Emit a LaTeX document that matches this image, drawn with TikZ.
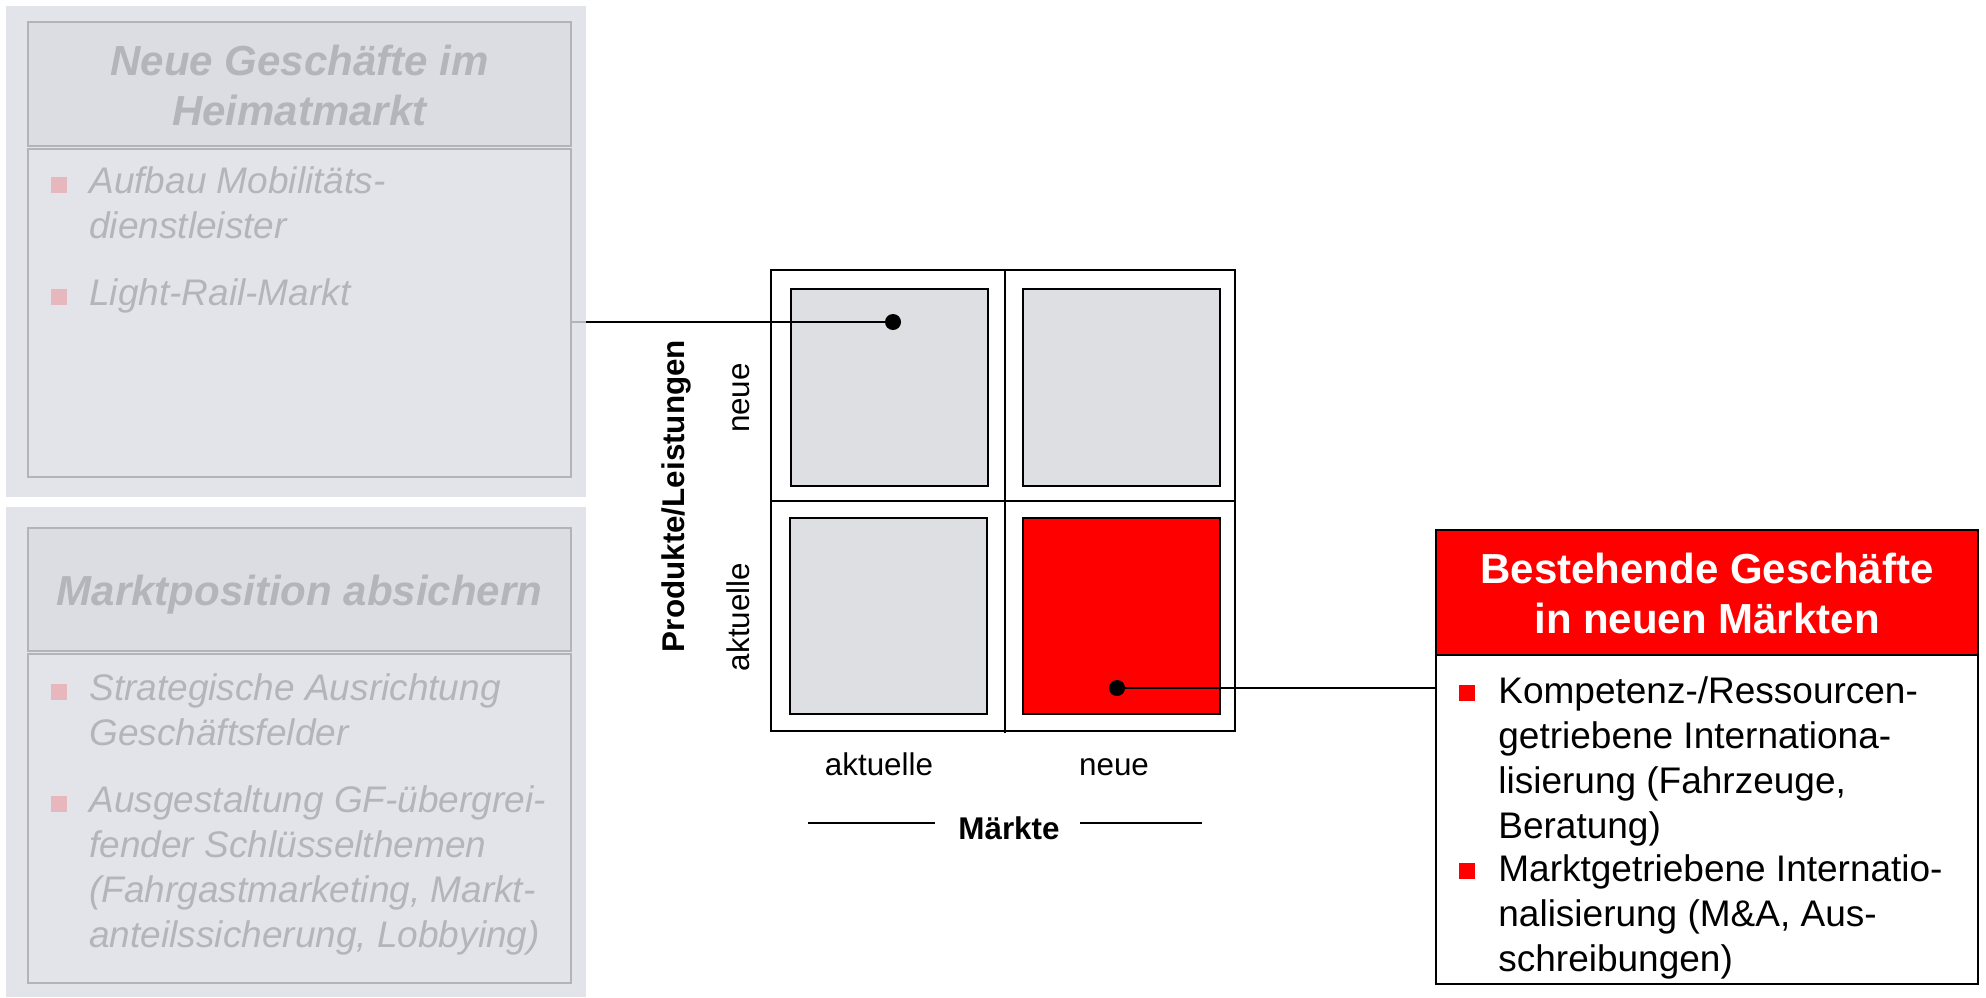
\documentclass[tikz,border=0pt]{standalone}
\usepackage{fontspec}
\setmainfont{Liberation Sans}
\definecolor{panelbg}{HTML}{E3E4E9}
\definecolor{panelhead}{HTML}{DCDDE2}
\definecolor{panelline}{HTML}{B3B4B9}
\definecolor{fadetext}{HTML}{B4B5BA}
\definecolor{fadebullet}{HTML}{E6B7BD}
\definecolor{cellgray}{HTML}{DEDFE3}
\definecolor{myred}{HTML}{FF0000}
\begin{document}
\begin{tikzpicture}[x=0.5pt,y=-0.5pt,
  boxnw/.style={inner sep=0pt, outer sep=0pt, anchor=north west},
  bgpanel/.style={boxnw, fill=panelbg},
  fadehead/.style={boxnw, fill=panelhead, draw=panelline, line width=1.3pt},
  fadebody/.style={boxnw, fill=panelbg, draw=panelline, line width=1.3pt},
  fadetitle/.style={inner sep=0pt, anchor=base, text=fadetext, font=\fontsize{21}{25}\selectfont\bfseries\itshape},
  fadeitem/.style={inner sep=0pt, anchor=base west, text=fadetext, font=\fontsize{18.5}{22.5}\selectfont\itshape},
  fadebul/.style={inner sep=0pt, anchor=south west, fill=fadebullet, minimum size=8pt},
  redbul/.style={inner sep=0pt, anchor=south west, fill=myred, minimum size=8pt},
  item/.style={inner sep=0pt, anchor=base west, font=\fontsize{18.5}{22.5}\selectfont},
  cell/.style={boxnw, fill=cellgray, draw=black, line width=1.3pt},
  axlbl/.style={inner sep=0pt, anchor=base, font=\fontsize{15.7}{19}\selectfont},
  dotst/.style={circle, fill=black, inner sep=0pt, minimum size=8pt},
  conn/.style={line width=1.3pt}
]
\useasboundingbox (0,0) rectangle (1986,997);

% ---------- left top panel ----------
\node[bgpanel, minimum width=290pt, minimum height=245.5pt] (bgA) at (6,6) {};
\node[fadehead, minimum width=271.5pt, minimum height=62pt] (headA) at (28,22) {};
\node[fadebody, minimum width=271.5pt, minimum height=164pt] (bodyA) at (28,149) {};
\node[fadetitle] (titleA) at (299.5,75) {\begin{tabular}[t]{@{}c@{}}Neue Geschäfte im\\Heimatmarkt\end{tabular}};
\node[fadebul] (bA1) at (51,193) {};
\node[fadeitem] (iA1) at (89,193) {\begin{tabular}[t]{@{}l@{}}Aufbau Mobilitäts-\\dienstleister\end{tabular}};
\node[fadebul] (bA2) at (51,305) {};
\node[fadeitem] (iA2) at (89,305) {Light-Rail-Markt};

% ---------- left bottom panel ----------
\node[bgpanel, minimum width=290pt, minimum height=245pt] (bgB) at (6,507) {};
\node[fadehead, minimum width=271.5pt, minimum height=61.5pt] (headB) at (28,528) {};
\node[fadebody, minimum width=271.5pt, minimum height=164.5pt] (bodyB) at (28,654) {};
\node[fadetitle] (titleB) at (299.5,605) {Marktposition absichern};
\node[fadebul] (bB1) at (51,700) {};
\node[fadeitem] (iB1) at (89,700) {\begin{tabular}[t]{@{}l@{}}Strategische Ausrichtung\\Geschäftsfelder\end{tabular}};
\node[fadebul] (bB2) at (51,812) {};
\node[fadeitem] (iB2) at (89,812) {\begin{tabular}[t]{@{}l@{}}Ausgestaltung GF-übergrei-\\fender Schlüsselthemen\\(Fahrgastmarketing, Markt-\\anteilssicherung, Lobbying)\end{tabular}};

% ---------- matrix ----------
\node[boxnw, draw=black, line width=1pt, minimum width=232pt, minimum height=230.5pt] (mat) at (771,270) {};
\coordinate (vtop) at (1005,270);
\coordinate (vbot) at (1005,733);
\coordinate (hl) at (771,501);
\coordinate (hr) at (1235,501);
\draw[line width=0.7pt] (vtop) -- (vbot);
\draw[line width=0.7pt] (hl) -- (hr);
\node[cell, minimum width=98.5pt, minimum height=98.5pt] (cTL) at (791,289) {};
\node[cell, minimum width=98.5pt, minimum height=98.5pt] (cTR) at (1023,289) {};
\node[cell, minimum width=98.5pt, minimum height=98pt] (cBL) at (790,518) {};
\node[cell, fill=myred, minimum width=98.5pt, minimum height=98pt] (cBR) at (1023,518) {};

% axis labels
\node[axlbl, font=\fontsize{15.7}{19}\selectfont\bfseries, rotate=90] (ylab) at (684,496) {Produkte/Leistungen};
\node[axlbl, rotate=90] (yneue) at (749,398) {neue};
\node[axlbl, rotate=90] (yakt) at (749,617) {aktuelle};
\node[axlbl] (xakt) at (879,775) {aktuelle};
\node[axlbl] (xneue) at (1114,775) {neue};
\node[axlbl, font=\fontsize{15.7}{19}\selectfont\bfseries] (mkt) at (1009,839) {Märkte};
\coordinate (ml1) at (808,823);
\coordinate (ml2) at (935,823);
\coordinate (mr1) at (1080,823);
\coordinate (mr2) at (1202,823);
\draw[line width=1pt] (ml1) -- (ml2);
\draw[line width=1pt] (mr1) -- (mr2);

% ---------- right box ----------
\node[boxnw, fill=myred, draw=black, line width=1.4pt, minimum width=271pt, minimum height=62.5pt] (headR) at (1436,530) {};
\node[boxnw, fill=white, draw=black, line width=1.4pt, minimum width=271pt, minimum height=164.5pt] (bodyR) at (1436,655) {};
\node[inner sep=0pt, anchor=base, text=white, font=\fontsize{21}{25}\selectfont\bfseries] (titleR) at (1707,583) {\begin{tabular}[t]{@{}c@{}}Bestehende Geschäfte\\in neuen Märkten\end{tabular}};
\node[redbul] (bR1) at (1459,701) {};
\node[item] (iR1) at (1498,703) {\begin{tabular}[t]{@{}l@{}}Kompetenz-/Ressourcen-\\getriebene Internationa-\\lisierung (Fahrzeuge,\\Beratung)\end{tabular}};
\node[redbul] (bR2) at (1459,879) {};
\node[item] (iR2) at (1498,881) {\begin{tabular}[t]{@{}l@{}}Marktgetriebene Internatio-\\nalisierung (M\&A, Aus-\\schreibungen)\end{tabular}};

% ---------- connectors ----------
\node[dotst] (dot1) at (893,322) {};
\node[dotst] (dot2) at (1117,688) {};
\coordinate (c1) at (586,322);
\draw[conn, draw=panelline] (bodyA.east |- dot1) -- (c1);
\draw[conn] (c1) -- (dot1.center);
\draw[conn] (dot2.center) -- (dot2 -| bodyR.west);
\end{tikzpicture}
\end{document}
